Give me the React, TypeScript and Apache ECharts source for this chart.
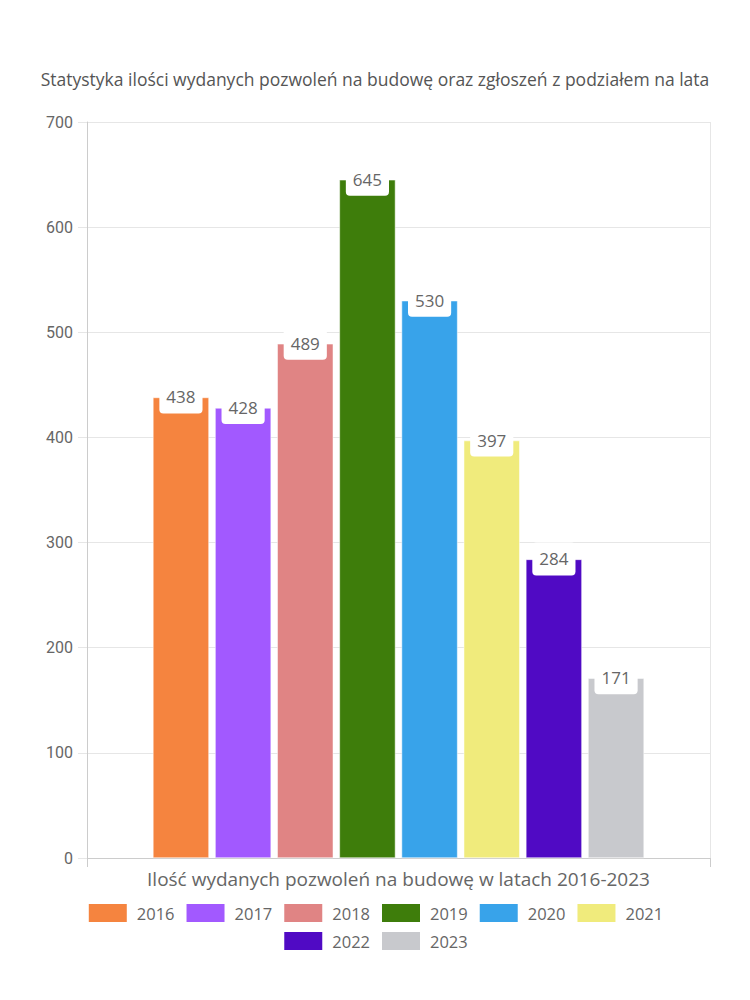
import React, { useEffect, useRef } from "react";
import * as echarts from "echarts";

const categories = ["Ilość wydanych pozwoleń na budowę w latach 2016-2023"];
const years = ["2016", "2017", "2018", "2019", "2020", "2021", "2022", "2023"];
const values = [438, 428, 489, 645, 530, 397, 284, 171];
const colors = ["#f5843f", "#a259ff", "#e08484", "#3e7d0b", "#38a3ea", "#f0eb7c", "#500ac4", "#c8c9cd"];
const titleText = "Statystyka ilości wydanych pozwoleń na budowę oraz zgłoszeń z podziałem na lata";
const legendRow1 = years.slice(0, 6);
const legendRow2 = years.slice(6);

export default function App() {
  const ref = useRef<HTMLDivElement>(null);
  useEffect(() => {
    if (!ref.current) return;
    const chart = echarts.init(ref.current, undefined, { renderer: "svg" });
    const series = years.map((y, i) => ({
      name: y,
      type: "bar",
      data: [values[i]],
      barWidth: 56,
      barGap: "11%",
      itemStyle: { color: colors[i], borderColor: "#ffffff", borderWidth: 0.5 },
      label: {
        show: true,
        position: "top",
        distance: 0,
        offset: [0, 16],
        color: "#666",
        fontSize: 17,
        fontFamily: "Open Sans",
        backgroundColor: "#ffffff",
        borderRadius: 4,
        padding: [8, 7],
      },
    }));
    const legendCommon = {
      left: "center",
      itemWidth: 40,
      itemHeight: 20,
      itemGap: 10,
      icon: "rect",
      textStyle: { color: "#666", fontSize: 16.5, fontFamily: "Open Sans", padding: [0, 0, 0, 4] },
    };
    chart.setOption({
      animation: false,
      title: {
        text: titleText,
        left: "center",
        top: 65,
        textStyle: { color: "#555", fontSize: 17.5, fontWeight: "normal", fontFamily: "Open Sans" },
      },
      legend: [
        { ...legendCommon, data: legendRow1, top: 897 },
        { ...legendCommon, data: legendRow2, top: 925 },
      ],
      grid: { left: 87, right: 40, top: 122, bottom: 142 },
      xAxis: {
        type: "category",
        data: categories,
        axisLine: { lineStyle: { color: "#ccc" } },
        axisTick: { show: true, length: 9, lineStyle: { color: "#ccc" } },
        splitLine: { show: true, lineStyle: { color: "#e6e6e6" } },
        axisLabel: { color: "#666", fontSize: 19, fontFamily: "Open Sans", margin: 11 },
      },
      yAxis: {
        type: "value",
        min: 0,
        max: 700,
        interval: 100,
        axisLine: { show: true, lineStyle: { color: "#ccc" } },
        axisTick: { show: true, length: 9, lineStyle: { color: "#e6e6e6" } },
        splitLine: { lineStyle: { color: "#e6e6e6" } },
        axisLabel: { color: "#666", fontSize: 16, fontFamily: "Roboto", margin: 14 },
      },
      series,
    });
    return () => chart.dispose();
  }, []);
  return <div ref={ref} style={{ position: "absolute", left: 0, top: 0, width: 750, height: 1000 }} />;
}
